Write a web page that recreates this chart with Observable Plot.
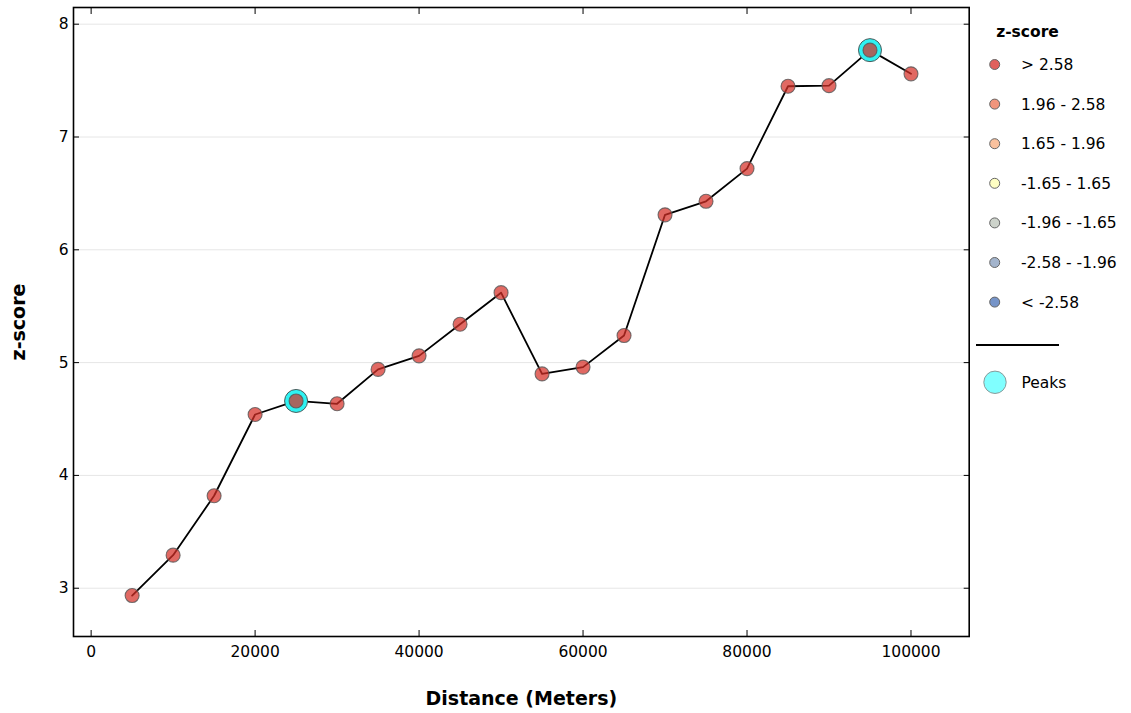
<!DOCTYPE html>
<html><head><meta charset="utf-8">
<script src="https://cdn.jsdelivr.net/npm/d3@7"></script>
<script src="https://cdn.jsdelivr.net/npm/@observablehq/plot@0.6"></script>
<style>
body{margin:0;background:#fff;font-family:"DejaVu Sans",sans-serif;}
#wrap{position:relative;width:1131px;height:713px;}
#legend{position:absolute;left:960px;top:0;}
</style></head><body><div id="wrap"></div>
<script>
const distances = [5000,10000,15000,20000,25000,30000,35000,40000,45000,50000,55000,60000,65000,70000,75000,80000,85000,90000,95000,100000];
const zscores = [2.935,3.293,3.82,4.54,4.66,4.635,4.94,5.06,5.34,5.62,4.90,4.96,5.24,6.31,6.43,6.72,7.45,7.455,7.77,7.56];
const peakDistances = [25000,95000];
const xTicks = [0,20000,40000,60000,80000,100000];
const yTicks = [3,4,5,6,7,8];
const legendTitle = "z-score";
const legendLabels = ["> 2.58","1.96 - 2.58","1.65 - 1.96","-1.65 - 1.65","-1.96 - -1.65","-2.58 - -1.96","< -2.58"];
const legendColors = ["#e0615d","#f1957c","#f9c19e","#ffffc4","#cdd3cb","#a3b4cc","#7694c8"];
const peaksLabel = "Peaks";

const data = distances.map((d,i)=>({distance:d, z:zscores[i]}));
const peaks = data.filter(d=>peakDistances.includes(d.distance));

const fs = 15.5;
const chart = Plot.plot({
  width:1131, height:713,
  marginLeft:73, marginRight:162.3, marginTop:7, marginBottom:77,
  style:{fontFamily:"DejaVu Sans", fontSize:fs+"px", color:"#000", background:"#fff"},
  x:{domain:[-2150,107100]},
  y:{domain:[2.572,8.148]},
  marks:[
    Plot.gridY(yTicks,{stroke:"#e6e6e6", strokeOpacity:1, strokeWidth:1}),
    Plot.axisX(xTicks,{tickSize:0, tickPadding:9, tickFormat:d=>String(d), label:null, fontSize:fs}),
    Plot.axisY(yTicks,{tickSize:0, tickPadding:5, tickFormat:d=>String(d), label:null, fontSize:fs}),
    Plot.axisX(xTicks,{anchor:"bottom", tickSize:-6, tickFormat:()=>"", label:null}),
    Plot.axisX(xTicks,{anchor:"top", tickSize:-6, tickFormat:()=>"", label:null}),
    Plot.axisY(yTicks,{anchor:"left", tickSize:-6, tickFormat:()=>"", label:null}),
    Plot.axisY(yTicks,{anchor:"right", tickSize:-6, tickFormat:()=>"", label:null}),
    Plot.line(data,{x:"distance", y:"z", stroke:"#000", strokeWidth:1.8}),
    Plot.dot(peaks,{x:"distance", y:"z", r:11.5, fill:"#2ef2f2", stroke:"#4a5a5a", strokeWidth:1}),
    Plot.dot(data,{x:"distance", y:"z", r:7, fill:"#d62f27", fillOpacity:0.72, stroke:"#555", strokeOpacity:0.8, strokeWidth:1.1}),
    Plot.frame({stroke:"#000", strokeWidth:1.6}),
    Plot.text(["Distance (Meters)"],{frameAnchor:"bottom", dy:62, lineAnchor:"middle", textAnchor:"middle", fontWeight:"bold", fontSize:19}),
    Plot.text(["z-score"],{frameAnchor:"left", dx:-55, rotate:-90, textAnchor:"middle", lineAnchor:"middle", fontWeight:"bold", fontSize:19})
  ]
});
const wrap = document.getElementById("wrap");
wrap.appendChild(chart);

// legend
const lg = d3.select(wrap).append("svg").attr("id","legend").attr("width",171).attr("height",420)
  .style("font-family","DejaVu Sans");
lg.append("text").attr("x",67.5).attr("y",31.7).attr("dy","0.35em").attr("text-anchor","middle")
  .attr("font-weight","bold").attr("font-size",15.5).text(legendTitle);
legendLabels.forEach((lab,i)=>{
  const cy = 64.5 + i*39.6;
  lg.append("circle").attr("cx",34.7).attr("cy",cy).attr("r",5).attr("fill",legendColors[i])
    .attr("stroke","#666").attr("stroke-width",1);
  lg.append("text").attr("x",61).attr("y",cy).attr("dy","0.35em").attr("font-size",fs).text(lab);
});
lg.append("line").attr("x1",16).attr("x2",99).attr("y1",345).attr("y2",345).attr("stroke","#000").attr("stroke-width",2);
lg.append("circle").attr("cx",35).attr("cy",382.3).attr("r",11.2).attr("fill","#80ffff").attr("stroke","#8a9a9a").attr("stroke-width",1);
lg.append("text").attr("x",61.5).attr("y",382.3).attr("dy","0.35em").attr("font-size",fs).text(peaksLabel);
</script></body></html>
